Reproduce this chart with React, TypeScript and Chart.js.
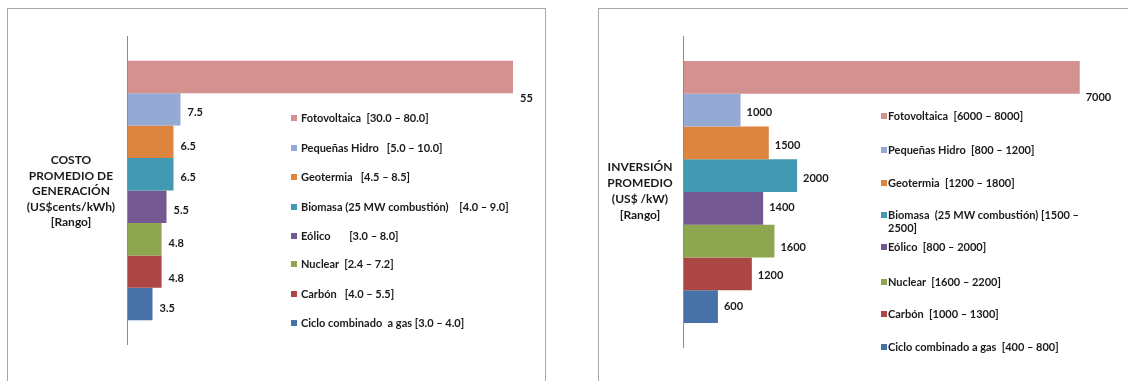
import React, { useEffect, useRef } from "react";
import { Chart, registerables } from "chart.js";

Chart.register(...registerables);

// ---------- DATA ----------
const CATEGORIES = [
  "Fotovoltaica",
  "Pequeñas Hidro",
  "Geotermia",
  "Biomasa (25 MW combustión)",
  "Eólico",
  "Nuclear",
  "Carbón",
  "Ciclo combinado a gas",
];

const COST_VALUES = [55, 7.5, 6.5, 6.5, 5.5, 4.8, 4.8, 3.5];
const COST_LABELS = ["55", "7.5", "6.5", "6.5", "5.5", "4.8", "4.8", "3.5"];
const COST_LEGEND = [
  "Fotovoltaica  [30.0 – 80.0]",
  "Pequeñas Hidro   [5.0 – 10.0]",
  "Geotermia   [4.5 – 8.5]",
  "Biomasa (25 MW combustión)    [4.0 – 9.0]",
  "Eólico       [3.0 – 8.0]",
  "Nuclear  [2.4 – 7.2]",
  "Carbón   [4.0 – 5.5]",
  "Ciclo combinado  a gas [3.0 – 4.0]",
];
const COST_TITLE = ["COSTO", "PROMEDIO DE", "GENERACIÓN", "(US$cents/kWh)", "[Rango]"];

const INVEST_VALUES = [7000, 1000, 1500, 2000, 1400, 1600, 1200, 600];
const INVEST_LABELS = ["7000", "1000", "1500", "2000", "1400", "1600", "1200", "600"];
const INVEST_LEGEND = [
  "Fotovoltaica  [6000 – 8000]",
  "Pequeñas Hidro  [800 – 1200]",
  "Geotermia  [1200 – 1800]",
  "Biomasa  (25 MW combustión) [1500 – 2500]",
  "Eólico  [800 – 2000]",
  "Nuclear  [1600 – 2200]",
  "Carbón  [1000 – 1300]",
  "Ciclo combinado a gas  [400 – 800]",
];
const INVEST_TITLE = ["INVERSIÓN", "PROMEDIO", "(US$ /kW)", "[Rango]"];

const COLORS = [
  "#D3918F",
  "#94A9D3",
  "#DD853F",
  "#4399B1",
  "#735891",
  "#8CA750",
  "#AB4644",
  "#4672A8",
];

// ---------- STYLE / LAYOUT ----------
const FONT = "Lato, 'Open Sans', sans-serif";

type PanelCfg = {
  values: number[];
  labels: string[];
  legend: string[];
  title: string[];
  canvasLeft: number;
  canvasWidth: number;
  padding: { left: number; right: number; top: number; bottom: number };
  xMax: number;
  labelDy: number[];
  labelDx: number;
  boxLeft: number;
  boxWidth: number;
  titleCenter: number;
  titleTop: number;
  titleLine: number;
  titleSize: number;
  legendSwatchX: number;
  legendTextX: number;
  legendY: number[];
  legendWrap: number;
};

const valueLabelPlugin = {
  id: "valueLabels",
  afterDatasetsDraw(chart: any, _args: any, opts: any) {
    const ctx = chart.ctx;
    ctx.save();
    ctx.font = `bold 11px ${FONT}`;
    ctx.fillStyle = "#1a1a1a";
    ctx.textAlign = "left";
    ctx.textBaseline = "middle";
    chart.data.datasets.forEach((_ds: any, i: number) => {
      const el = chart.getDatasetMeta(i).data[0];
      if (!el) return;
      ctx.fillText(opts.labels[i], el.x + opts.dx, el.y + opts.dy[i]);
    });
    ctx.restore();
  },
};

const axisLinePlugin = {
  id: "axisLine",
  afterDatasetsDraw(chart: any) {
    const { ctx, chartArea } = chart;
    ctx.save();
    ctx.strokeStyle = "#8C8C8C";
    ctx.lineWidth = 1;
    ctx.beginPath();
    ctx.moveTo(Math.round(chartArea.left) - 0.5, chartArea.top);
    ctx.lineTo(Math.round(chartArea.left) - 0.5, chartArea.bottom);
    ctx.stroke();
    ctx.restore();
  },
};

function Panel({ cfg }: { cfg: PanelCfg }) {
  const ref = useRef<HTMLCanvasElement | null>(null);
  useEffect(() => {
    if (!ref.current) return;
    const chart = new Chart(ref.current, {
      type: "bar",
      data: {
        labels: [""],
        datasets: cfg.values.map((v, i) => ({
          label: CATEGORIES[i],
          data: [v],
          backgroundColor: COLORS[i],
          borderWidth: 0,
          barPercentage: 1,
          categoryPercentage: 0.84,
        })),
      },
      options: {
        indexAxis: "y",
        animation: false,
        responsive: false,
        maintainAspectRatio: false,
        layout: { padding: cfg.padding },
        scales: {
          x: { display: false, min: 0, max: cfg.xMax },
          y: { display: false },
        },
        plugins: {
          legend: { display: false },
          tooltip: { enabled: false },
          valueLabels: { labels: cfg.labels, dy: cfg.labelDy, dx: cfg.labelDx },
        } as any,
      },
      plugins: [axisLinePlugin, valueLabelPlugin],
    } as any);
    return () => chart.destroy();
  }, [cfg]);

  return (
    <>
      <div
        style={{
          position: "absolute",
          left: cfg.boxLeft,
          top: 8,
          width: cfg.boxWidth,
          height: 500,
          border: "1px solid #A8A8A8",
          boxSizing: "border-box",
        }}
      />
      <canvas
        ref={ref}
        width={cfg.canvasWidth}
        height={381}
        style={{
          position: "absolute",
          left: cfg.canvasLeft,
          top: 0,
          width: cfg.canvasWidth,
          height: 381,
        }}
      />
      <div
        style={{
          position: "absolute",
          left: cfg.titleCenter - 80,
          width: 160,
          top: cfg.titleTop,
          textAlign: "center",
          fontFamily: FONT,
          fontWeight: 700,
          fontSize: cfg.titleSize,
          lineHeight: `${cfg.titleLine}px`,
          color: "#1a1a1a",
        }}
      >
        {cfg.title.map((t, i) => (
          <div key={i}>{t}</div>
        ))}
      </div>
      {cfg.legend.map((t, i) => (
        <React.Fragment key={i}>
          <div
            style={{
              position: "absolute",
              left: cfg.legendSwatchX,
              top: cfg.legendY[i] - 3,
              width: 6,
              height: 6,
              background: COLORS[i],
            }}
          />
          <div
            style={{
              position: "absolute",
              left: cfg.legendTextX,
              top: cfg.legendY[i] - 7,
              width: cfg.legendWrap,
              lineHeight: "13px",
              fontFamily: FONT,
              fontWeight: 700,
              fontSize: 11,
              color: "#1a1a1a",
              whiteSpace: "pre-wrap",
            }}
          >
            {t}
          </div>
        </React.Fragment>
      ))}
    </>
  );
}

const LEFT: PanelCfg = {
  values: COST_VALUES,
  labels: COST_LABELS,
  legend: COST_LEGEND,
  title: COST_TITLE,
  canvasLeft: 0,
  canvasWidth: 560,
  padding: { left: 128, right: 12, top: 36, bottom: 36 },
  xMax: 60,
  labelDy: [22, 3, 5, 3, 4, 4, 7, 4],
  labelDx: 7,
  boxLeft: 7,
  boxWidth: 539,
  titleCenter: 71,
  titleTop: 152,
  titleLine: 15.5,
  titleSize: 12,
  legendSwatchX: 291,
  legendTextX: 301,
  legendY: [118, 148, 177, 207, 236, 264, 294, 323],
  legendWrap: 260,
};

const RIGHT: PanelCfg = {
  values: INVEST_VALUES,
  labels: INVEST_LABELS,
  legend: INVEST_LEGEND,
  title: INVEST_TITLE,
  canvasLeft: 560,
  canvasWidth: 568,
  padding: { left: 124, right: 20, top: 36, bottom: 33 },
  xMax: 7500,
  labelDy: [20, 2, 3, 3, -1, 6, 2, 0],
  labelDx: 6,
  boxLeft: 598,
  boxWidth: 600,
  titleCenter: 640,
  titleTop: 159,
  titleLine: 16,
  titleSize: 12,
  legendSwatchX: 881,
  legendTextX: 888,
  legendY: [116, 150, 183, 215, 247, 282, 314, 347],
  legendWrap: 200,
};

export default function App() {
  return (
    <div
      style={{
        position: "fixed",
        left: 0,
        top: 0,
        width: 1128,
        height: 381,
        overflow: "hidden",
        background: "#ffffff",
      }}
    >
      <Panel cfg={LEFT} />
      <Panel cfg={RIGHT} />
    </div>
  );
}
